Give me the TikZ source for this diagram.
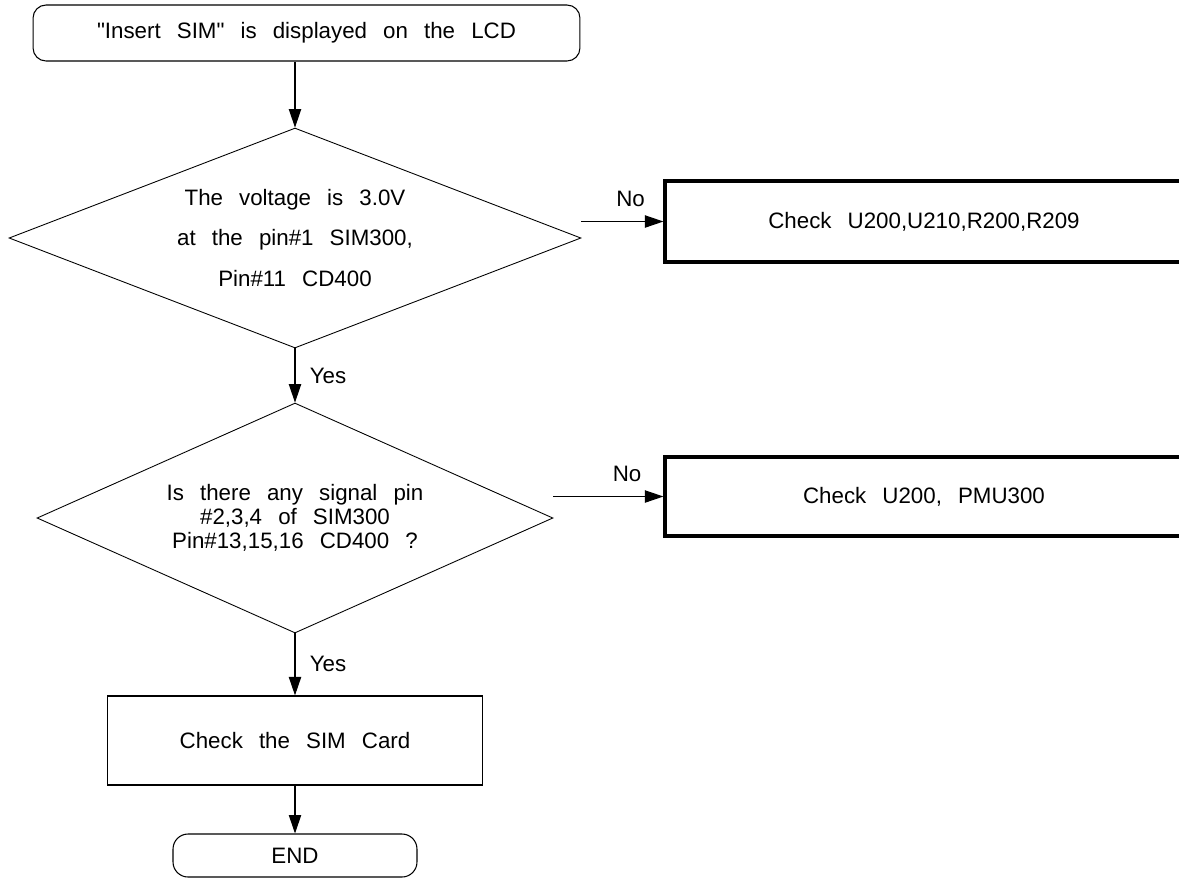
\documentclass[tikz,border=0pt]{standalone}
\usepackage{fontspec}
\setmainfont{Liberation Sans}[WordSpace=2.6,Ligatures=TeXOff]
\usetikzlibrary{shapes.geometric,arrows.meta,positioning}

\tikzset{
  term/.style={shape=rectangle,rounded corners=0.26cm,draw=black,align=center,line width=0.6pt,inner sep=0pt},
  decision/.style={shape=diamond,draw=black,align=center,line width=0.5pt,inner sep=0pt},
  action/.style={shape=rectangle,draw=black,align=center,line width=0.7pt,inner sep=0pt},
  fixbox/.style={shape=rectangle,draw=black,align=center,line width=1.9pt,inner sep=0pt},
  flow/.style={-{Triangle[length=10.5pt,width=7pt]},draw=black,line width=0.6pt},
  answer/.style={inner sep=1pt}
}

\begin{document}
\begin{tikzpicture}[x=0.02cm,y=-0.02cm,font=\fontsize{12.7}{15}\selectfont]
\useasboundingbox (0,0) rectangle (1179,880);
\node[term,minimum width=10.94cm,minimum height=1.12cm] (start) at (306.5,33) {"Insert SIM" is displayed on the LCD};
\node[decision,aspect=2.6,minimum width=11.44cm,minimum height=4.4cm,font=\fontsize{12.7}{22.8}\selectfont] (volt) at (295,238) {The voltage is 3.0V\\at the pin\#1 SIM300,\\Pin\#11 CD400};
\node[fixbox,minimum width=10.36cm,minimum height=1.62cm] (chkA) at (924,221.5) {Check U200,U210,R200,R209};
\node[decision,aspect=2.24,minimum width=10.32cm,minimum height=4.6cm,font=\fontsize{12.7}{13.7}\selectfont] (sig) at (295,518) {Is there any signal pin\\\#2,3,4 of SIM300\\Pin\#13,15,16 CD400 ?};
\node[fixbox,minimum width=10.36cm,minimum height=1.58cm] (chkB) at (924,496.5) {Check U200, PMU300};
\node[action,minimum width=7.5cm,minimum height=1.78cm] (card) at (295,740.5) {Check the SIM Card};
\node[term,rounded corners=0.3cm,minimum width=4.88cm,minimum height=0.86cm] (stop) at (295,855.5) {END};

\draw[flow] (volt.north |- start.south) -- (volt.north);
\draw[flow] (volt.east |- chkA.west) -- node[answer,pos=0.6,above=2.6mm] {No} (chkA.west);
\draw[flow] (volt.south) -- node[answer,right=2.5mm] {Yes} (sig.north);
\draw[flow] (sig.east |- chkB.west) -- node[answer,pos=0.67,above=2.6mm] {No} (chkB.west);
\draw[flow] (sig.south) -- node[answer,right=2.5mm] {Yes} (card.north);
\draw[flow] (card.south) -- (stop.north);
\end{tikzpicture}
\end{document}
